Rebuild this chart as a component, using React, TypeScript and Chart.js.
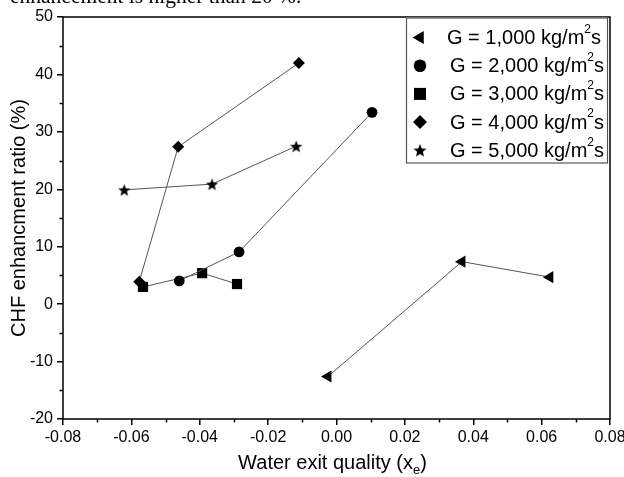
import React, { useEffect, useRef } from 'react';
import { Chart, registerables } from 'chart.js';
import { drawPoint } from 'chart.js/helpers';

Chart.register(...registerables);

// ---- data ----
const massFluxLabels = ['1,000', '2,000', '3,000', '4,000', '5,000'];

const x1000 = [-0.0025, 0.0367, 0.0624];
const y1000 = [-12.6, 7.4, 4.7];

const x2000 = [-0.046, -0.0285, 0.0104];
const y2000 = [4.05, 9.1, 33.4];

const x3000 = [-0.0566, -0.0393, -0.0291];
const y3000 = [3.0, 5.4, 3.5];

const x4000 = [-0.0577, -0.0463, -0.011];
const y4000 = [3.9, 27.4, 42.0];

const x5000 = [-0.0621, -0.0364, -0.0118];
const y5000 = [19.9, 20.9, 27.5];

const xMin = -0.08;
const xMax = 0.08;
const xStep = 0.02;
const yMin = -20;
const yMax = 50;
const yStep = 10;

const yTitle = 'CHF enhancment ratio (%)';
const xTitleMain = 'Water exit quality (x';
const xTitleSub = 'e';
const xTitleEnd = ')';
const topText = 'enhancement is higher than 20 %.';

const FONT = "Arial, 'Liberation Sans', Helvetica, sans-serif";

function makeStar(outer: number): HTMLCanvasElement {
  const size = Math.ceil(outer * 2 + 2);
  const c = document.createElement('canvas');
  c.width = size;
  c.height = size;
  const g = c.getContext('2d')!;
  const cx = size / 2;
  const cy = size / 2 + outer * 0.1;
  const inner = outer * 0.42;
  g.beginPath();
  for (let i = 0; i < 10; i++) {
    const r = i % 2 === 0 ? outer : inner;
    const a = -Math.PI / 2 + (i * Math.PI) / 5;
    const px = cx + r * Math.cos(a);
    const py = cy + r * Math.sin(a);
    if (i === 0) g.moveTo(px, py);
    else g.lineTo(px, py);
  }
  g.closePath();
  g.fillStyle = '#000';
  g.fill();
  return c;
}

const toPts = (xs: number[], ys: number[]) => xs.map((x, i) => ({ x, y: ys[i] }));

export default function App() {
  const ref = useRef<HTMLCanvasElement | null>(null);

  useEffect(() => {
    const canvas = ref.current;
    if (!canvas) return;
    const starPlot = makeStar(6.5);
    const starLegend = makeStar(7);

    const markers: any[] = [
      { pointStyle: 'triangle', radius: 7, rotation: -90 },
      { pointStyle: 'circle', radius: 5.4, rotation: 0 },
      { pointStyle: 'rect', radius: 7.2, rotation: 0 },
      { pointStyle: 'rectRot', radius: 6, rotation: 0 },
      { pointStyle: starPlot, radius: 6.5, rotation: 0 },
    ];
    const legendMarkers: any[] = [
      { pointStyle: 'triangle', radius: 7.5, rotation: -90 },
      { pointStyle: 'circle', radius: 6.3, rotation: 0 },
      { pointStyle: 'rect', radius: 8.5, rotation: 0 },
      { pointStyle: 'rectRot', radius: 7, rotation: 0 },
      { pointStyle: starLegend, radius: 7, rotation: 0 },
    ];

    const seriesData = [
      toPts(x1000, y1000),
      toPts(x2000, y2000),
      toPts(x3000, y3000),
      toPts(x4000, y4000),
      toPts(x5000, y5000),
    ];

    const extras = {
      id: 'extras',
      afterDraw(chart: any) {
        const { ctx, chartArea: ca, scales } = chart;
        const xs = scales.x;
        const ys = scales.y;
        ctx.save();
        // frame
        ctx.strokeStyle = '#000';
        ctx.lineWidth = 1.5;
        ctx.strokeRect(ca.left, ca.top, ca.right - ca.left, ca.bottom - ca.top);
        // minor ticks
        ctx.beginPath();
        const nx = Math.round((xMax - xMin) / xStep);
        for (let i = 0; i < nx; i++) {
          const v = xMin + (i + 0.5) * xStep;
          const px = Math.round(xs.getPixelForValue(v)) + 0.5;
          ctx.moveTo(px, ca.bottom);
          ctx.lineTo(px, ca.bottom + 3.5);
        }
        const ny = Math.round((yMax - yMin) / yStep);
        for (let i = 0; i < ny; i++) {
          const v = yMin + (i + 0.5) * yStep;
          const py = Math.round(ys.getPixelForValue(v)) + 0.5;
          ctx.moveTo(ca.left, py);
          ctx.lineTo(ca.left - 3.5, py);
        }
        ctx.stroke();

        // x title with subscript
        ctx.fillStyle = '#000';
        ctx.textBaseline = 'alphabetic';
        ctx.textAlign = 'left';
        ctx.font = `20px ${FONT}`;
        const w1 = ctx.measureText(xTitleMain).width;
        const w3 = ctx.measureText(xTitleEnd).width;
        ctx.font = `13px ${FONT}`;
        const w2 = ctx.measureText(xTitleSub).width;
        const total = w1 + w2 + w3;
        const cx = (ca.left + ca.right) / 2 - 4;
        let tx = cx - total / 2;
        const base = ca.bottom + 50;
        ctx.font = `20px ${FONT}`;
        ctx.fillText(xTitleMain, tx, base);
        tx += w1;
        ctx.font = `13px ${FONT}`;
        ctx.fillText(xTitleSub, tx, base + 5);
        tx += w2;
        ctx.font = `20px ${FONT}`;
        ctx.fillText(xTitleEnd, tx, base);

        // legend
        const lw = 201;
        const lh = 145;
        const lx = ca.right - 204;
        const ly = ca.top + 0.5;
        ctx.fillStyle = '#fff';
        ctx.fillRect(lx, ly, lw, lh);
        ctx.strokeStyle = '#555';
        ctx.lineWidth = 1.2;
        ctx.strokeRect(lx + 0.5, ly + 0.5, lw, lh);
        ctx.textBaseline = 'middle';
        for (let i = 0; i < massFluxLabels.length; i++) {
          const rowY = ly + 20 + i * 28.2;
          const m = legendMarkers[i];
          ctx.fillStyle = '#000';
          ctx.strokeStyle = '#000';
          drawPoint(ctx, { pointStyle: m.pointStyle, radius: m.radius, rotation: m.rotation, borderWidth: 0 } as any, lx + 14, rowY);
          let sx = lx + (i === 0 ? 41 : 44);
          ctx.fillStyle = '#000';
          ctx.font = `20px ${FONT}`;
          const p1 = `G = ${massFluxLabels[i]} kg/m`;
          ctx.fillText(p1, sx, rowY + 1);
          sx += ctx.measureText(p1).width;
          ctx.font = `12px ${FONT}`;
          ctx.fillText('2', sx, rowY - 8);
          sx += ctx.measureText('2').width;
          ctx.font = `20px ${FONT}`;
          ctx.fillText('s', sx, rowY + 1);
        }
        ctx.restore();
      },
    };

    const chart = new Chart(canvas, {
      type: 'scatter',
      data: {
        datasets: seriesData.map((d, i) => ({
          label: `G = ${massFluxLabels[i]} kg/m²s`,
          data: d,
          showLine: true,
          borderColor: '#555',
          borderWidth: 1,
          backgroundColor: '#000',
          pointBackgroundColor: '#000',
          pointBorderColor: '#000',
          pointBorderWidth: 0,
          pointStyle: markers[i].pointStyle,
          pointRadius: markers[i].radius,
          pointRotation: markers[i].rotation,
          pointHoverRadius: markers[i].radius,
          tension: 0,
          fill: false,
        })),
      },
      options: {
        animation: false,
        responsive: false,
        maintainAspectRatio: false,
        events: [],
        layout: { padding: { top: 17, right: 14, left: 0, bottom: 0 } },
        plugins: {
          legend: { display: false },
          tooltip: { enabled: false },
        },
        scales: {
          x: {
            type: 'linear',
            min: xMin,
            max: xMax,
            grid: {
              display: true,
              drawOnChartArea: false,
              drawTicks: true,
              tickLength: 6,
              color: '#000',
              lineWidth: 1.5,
            },
            border: { display: false },
            ticks: {
              stepSize: xStep,
              autoSkip: false,
              maxRotation: 0,
              padding: 3,
              color: '#000',
              font: { family: FONT, size: 16 },
              callback: (v: any) => {
                const n = Number(v);
                return Math.abs(n) < 1e-9 ? '0.00' : n.toFixed(2);
              },
            },
            title: { display: false },
            afterFit: (s: any) => {
              s.height = 58;
              s.paddingRight = 0;
              s.paddingLeft = 0;
            },
          },
          y: {
            type: 'linear',
            min: yMin,
            max: yMax,
            grid: {
              display: true,
              drawOnChartArea: false,
              drawTicks: true,
              tickLength: 6,
              color: '#000',
              lineWidth: 1.5,
            },
            border: { display: false },
            ticks: {
              stepSize: yStep,
              autoSkip: false,
              padding: 4,
              color: '#000',
              font: { family: FONT, size: 16 },
              callback: (v: any) => String(Math.round(Number(v))),
            },
            title: {
              display: true,
              text: yTitle,
              color: '#000',
              font: { family: FONT, size: 20 },
              padding: { top: 7, bottom: 0 },
            },
            afterFit: (s: any) => {
              s.width = 63;
              s.paddingTop = 0;
              s.paddingBottom = 0;
            },
          },
        },
      },
      plugins: [extras],
    } as any);

    return () => chart.destroy();
  }, []);

  return (
    <div style={{ position: 'absolute', left: 0, top: 0, width: 624, height: 477, background: '#fff', overflow: 'hidden' }}>
      <canvas ref={ref} width={624} height={477} style={{ display: 'block' }} />
      <div
        style={{
          position: 'absolute',
          left: 10,
          top: -14,
          fontFamily: "'Liberation Serif', 'Times New Roman', serif",
          fontSize: 21.5,
          lineHeight: 1,
          whiteSpace: 'nowrap',
          color: '#000',
        }}
      >
        {topText}
      </div>
    </div>
  );
}
